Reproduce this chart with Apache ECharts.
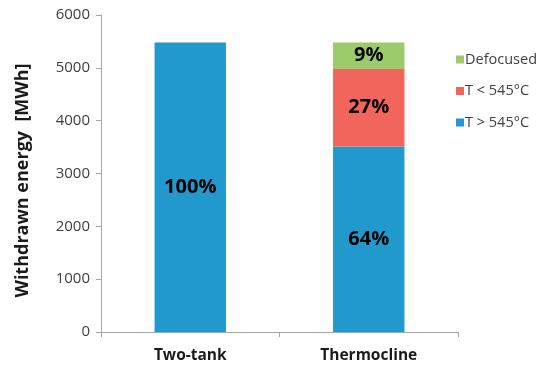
<!DOCTYPE html>
<html>
<head>
<meta charset="utf-8">
<script src="https://cdn.jsdelivr.net/npm/echarts@6/dist/echarts.min.js"></script>
<style>
  html, body { margin: 0; padding: 0; background: #fff; }
  #chart { width: 541px; height: 366px; }
</style>
</head>
<body>
<div id="chart"></div>
<script>
// Storage configurations on the category axis
const categories = ['Two-tank', 'Thermocline'];

// Withdrawn energy per discharge temperature class [MWh]
const hotEnergy = [5480, 3510];      // T > 545°C
const coolEnergy = [0, 1470];        // T < 545°C
const defocusedEnergy = [0, 500];    // Defocused

// Value axis ticks
const yMin = 0, yMax = 6000, yStep = 1000;

const seriesNames = ['T > 545°C', 'T < 545°C', 'Defocused'];
const seriesColors = ['#2199CC', '#F2655C', '#9BCB6B'];
const seriesData = [hotEnergy, coolEnergy, defocusedEnergy];

const totals = categories.map((_, i) => seriesData.reduce((s, d) => s + d[i], 0));
const font = 'Open Sans, "DejaVu Sans", sans-serif';

const chart = echarts.init(document.getElementById('chart'), null, { renderer: 'canvas' });

chart.setOption({
  animation: false,
  grid: { left: 101, right: 83, top: 15, bottom: 34, containLabel: false },
  legend: {
    orient: 'vertical',
    left: 451,
    top: 47,
    itemGap: 16.5,
    itemWidth: 8,
    itemHeight: 8,
    icon: 'rect',
    data: ['Defocused', 'T < 545°C', 'T > 545°C'],
    textStyle: { fontFamily: font, fontSize: 14.5, color: '#404040', padding: [0, 0, 0, -4] }
  },
  xAxis: {
    type: 'category',
    data: categories,
    axisLine: { lineStyle: { color: '#A6A6A6' } },
    axisTick: { show: true, length: 5, alignWithLabel: false, lineStyle: { color: '#A6A6A6' } },
    axisLabel: { fontFamily: font, fontSize: 15.5, fontWeight: 'bold', color: '#1a1a1a', margin: 16 }
  },
  yAxis: {
    type: 'value',
    min: yMin,
    max: yMax,
    interval: yStep,
    name: 'Withdrawn energy  [MWh]',
    nameLocation: 'middle',
    nameGap: 69,
    nameTextStyle: { fontFamily: font, fontSize: 18, fontWeight: 'bold', color: '#1a1a1a', padding: [0, 14, 0, 0] },
    axisLine: { show: true, lineStyle: { color: '#A6A6A6' } },
    axisTick: { show: true, length: 5, lineStyle: { color: '#A6A6A6' } },
    splitLine: { show: false },
    axisLabel: { fontFamily: font, fontSize: 15, color: '#404040', margin: 11, formatter: v => String(v) }
  },
  series: seriesNames.map((name, k) => ({
    name,
    type: 'bar',
    stack: 'energy',
    barWidth: '40%',
    itemStyle: { color: seriesColors[k] },
    data: seriesData[k],
    label: {
      show: true,
      position: 'inside',
      fontFamily: font,
      fontSize: 20,
      fontWeight: 'bold',
      color: '#000',
      formatter: p => p.value > 0 ? Math.round(p.value / totals[p.dataIndex] * 100) + '%' : ''
    }
  }))
});
</script>
</body>
</html>
